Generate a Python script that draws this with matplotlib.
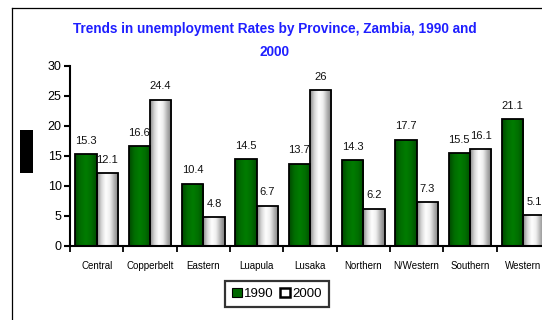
import numpy as np
import matplotlib
matplotlib.use("Agg")
import matplotlib.pyplot as plt
import matplotlib.patches as mpatches
from matplotlib.lines import Line2D

# ── Data ──────────────────────────────────────────────────────────────────────
provinces = ["Central", "Copperbelt", "Eastern", "Luapula", "Lusaka",
             "Northern", "N/Western", "Southern", "Western"]
rate_1990 = [15.3, 16.6, 10.4, 14.5, 13.7, 14.3, 17.7, 15.5, 21.1]
rate_2000 = [12.1, 24.4, 4.8, 6.7, 26.0, 6.2, 7.3, 16.1, 5.1]
yticks = [0, 5, 10, 15, 20, 25, 30]

TITLE_BLUE = "#1f1fff"
plt.rcParams["font.family"] = ["Liberation Sans", "DejaVu Sans"]

W, H = 542, 320
fig = plt.figure(figsize=(W / 100, H / 100), dpi=100)
fig.patch.set_facecolor("white")

ax = fig.add_axes([70 / W, 1 - 246 / H, 480 / W, 180 / H])
x = np.arange(len(provinces))
bw = 0.4


def shade(ax, bars, cmap_cols):
    """Fill each bar with a horizontal gradient, clipped to the bar."""
    t = np.linspace(0, 1, 64)
    cmap = matplotlib.colors.LinearSegmentedColormap.from_list("g", cmap_cols)
    grad = np.atleast_2d(t)
    for b in bars:
        x0, y0 = b.get_x(), b.get_y()
        im = ax.imshow(grad, cmap=cmap, aspect="auto", interpolation="bicubic",
                       extent=[x0, x0 + b.get_width(), y0, y0 + b.get_height()],
                       zorder=2)
        im.set_clip_path(b)
        b.set_facecolor("none")


b1 = ax.bar(x - bw / 2, rate_1990, bw, edgecolor="black", linewidth=1.3, zorder=3)
b2 = ax.bar(x + bw / 2, rate_2000, bw, edgecolor="black", linewidth=1.3, zorder=3)
shade(ax, b1, ["#004800", "#006e00", "#007c00", "#006e00", "#004c00"])
shade(ax, b2, ["#8a8a8a", "#d8d8d8", "#ffffff", "#eeeeee", "#b0b0b0", "#7a7a7a"])

for bars, vals in ((b1, rate_1990), (b2, rate_2000)):
    for b, v in zip(bars, vals):
        ax.annotate(f"{v:g}", (b.get_x() + b.get_width() / 2, v),
                    xytext=(0, 6), textcoords="offset points",
                    ha="center", va="bottom", fontsize=8, color="#111111")

ax.set_xlim(-0.5, len(provinces) - 0.5)
ax.set_ylim(0, 30)
ax.set_yticks(yticks)
ax.set_xticks(x)
ax.set_xticklabels(provinces, fontsize=7)
ax.set_xticks(np.arange(len(provinces) + 1) - 0.5, minor=True)
ax.tick_params(axis="x", which="major", length=0, pad=11)
ax.tick_params(axis="x", which="minor", length=4, width=1.3, direction="out")
ax.tick_params(axis="y", length=4, width=1.5, direction="out", labelsize=9, pad=2)
for s in ("top", "right"):
    ax.spines[s].set_visible(False)
for s in ("left", "bottom"):
    ax.spines[s].set_linewidth(1.5)

# Title
fig.text(0.507, 1 - 40.5 / H, "Trends in unemployment Rates by Province, Zambia, 1990 and\n2000",
         ha="center", va="center", fontsize=9.8, fontweight="bold",
         color=TITLE_BLUE, linespacing=1.85)

# Legend
handles = [mpatches.Patch(facecolor="#006800", edgecolor="black", linewidth=0.8, label="1990"),
           mpatches.Patch(facecolor="white", edgecolor="black", linewidth=1.8, label="2000")]
leg = fig.legend(handles=handles, loc="center", bbox_to_anchor=(277 / W, 1 - 294 / H),
                 ncol=2, fontsize=9.5, frameon=True, fancybox=False,
                 handlelength=0.7, handleheight=0.7, handletextpad=0.2,
                 columnspacing=0.5, borderpad=0.55, borderaxespad=0)
leg.get_frame().set_edgecolor("black")
leg.get_frame().set_linewidth(1.6)

# Outer frame and black marker block
fig.add_artist(Line2D([12 / W, 12 / W], [0, 1 - 8 / H], color="black", lw=0.9))
fig.add_artist(Line2D([12 / W, 1], [1 - 8 / H, 1 - 8 / H], color="black", lw=0.9))
fig.add_artist(mpatches.Rectangle((20 / W, 1 - 173 / H), 13 / W, 43 / H,
                                  transform=fig.transFigure, facecolor="black",
                                  linewidth=0))

fig.savefig("out.png", dpi=100)
